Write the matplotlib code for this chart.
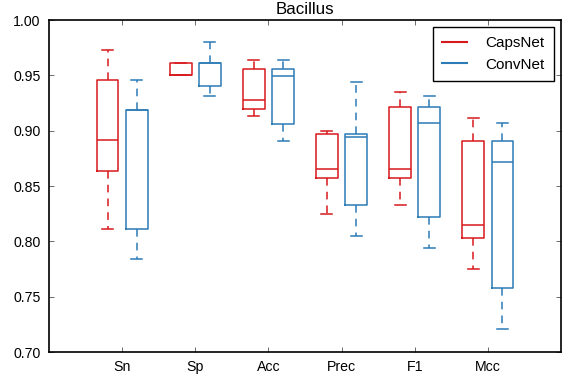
import matplotlib
matplotlib.use("Agg")
import matplotlib.pyplot as plt
import numpy as np

plt.rcParams["font.family"] = ["Liberation Sans", "DejaVu Sans"]
plt.rcParams["font.size"] = 10.2

metrics = ["Sn", "Sp", "Acc", "Prec", "F1", "Mcc"]

# per metric: whislo, q1, median, q3, whishi
caps_whislo = [0.811, 0.950, 0.913, 0.825, 0.833, 0.775]
caps_q1 = [0.864, 0.950, 0.920, 0.857, 0.857, 0.803]
caps_med = [0.892, 0.950, 0.928, 0.865, 0.865, 0.815]
caps_q3 = [0.946, 0.961, 0.956, 0.897, 0.921, 0.891]
caps_whishi = [0.973, 0.961, 0.964, 0.900, 0.935, 0.911]

conv_whislo = [0.784, 0.931, 0.891, 0.805, 0.794, 0.721]
conv_q1 = [0.811, 0.940, 0.906, 0.833, 0.822, 0.758]
conv_med = [0.919, 0.961, 0.949, 0.894, 0.907, 0.872]
conv_q3 = [0.919, 0.961, 0.956, 0.897, 0.921, 0.891]
conv_whishi = [0.946, 0.980, 0.964, 0.944, 0.931, 0.907]

RED = "#D7191C"
BLUE = "#2C7BB6"


def make_stats(lo, q1, med, q3, hi):
    return [dict(whislo=a, q1=b, med=c, q3=d, whishi=e, fliers=[])
            for a, b, c, d, e in zip(lo, q1, med, q3, hi)]


def set_box_color(bp, color):
    for key in ["boxes", "whiskers", "caps", "medians"]:
        plt.setp(bp[key], color=color, linewidth=1.1)
    plt.setp(bp["whiskers"], linestyle=(0, (5, 4)))


fig, ax = plt.subplots(figsize=(5.76, 3.84), dpi=100)
fig.subplots_adjust(left=49 / 576, right=561 / 576, bottom=32 / 384, top=364 / 384)

pos = np.arange(len(metrics)) * 2.0
bpl = ax.bxp(make_stats(caps_whislo, caps_q1, caps_med, caps_q3, caps_whishi),
             positions=pos - 0.4, widths=0.6, showfliers=False)
bpr = ax.bxp(make_stats(conv_whislo, conv_q1, conv_med, conv_q3, conv_whishi),
             positions=pos + 0.4, widths=0.6, showfliers=False)
set_box_color(bpl, RED)
set_box_color(bpr, BLUE)

ax.plot([], c=RED, label="CapsNet")
ax.plot([], c=BLUE, label="ConvNet")
leg = ax.legend(loc="upper right", fancybox=False, edgecolor="black",
                framealpha=1, fontsize=11, borderaxespad=0.45,
                borderpad=0.6, handlelength=1.6, handletextpad=1.25,
                labelspacing=0.5)
leg.get_frame().set_linewidth(1.0)

ax.set_xticks(pos)
ax.set_xticklabels(metrics)
ax.set_xlim(-2, len(metrics) * 2)
ax.set_ylim(0.70, 1.00)
ax.set_yticks(np.arange(0.70, 1.001, 0.05))
ax.yaxis.set_major_formatter(matplotlib.ticker.FormatStrFormatter("%.2f"))
ax.tick_params(direction="in", top=True, right=True, length=3.5, width=0.6,
               color="#555555", pad=6)
for s in ax.spines.values():
    s.set_linewidth(1.2)
ax.set_title("Bacillus", fontsize=12.2, pad=4)

fig.savefig("out.png", dpi=100)
